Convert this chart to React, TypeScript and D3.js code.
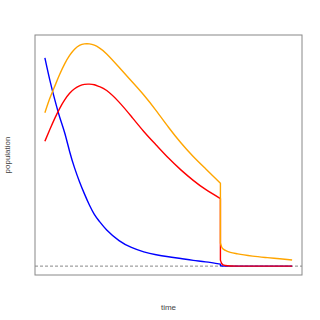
import React from "react";
import * as d3 from "d3";

const preTime = [0, 2, 4, 6, 8, 10, 12, 14, 16, 18, 20, 22, 25, 30, 35, 40, 45, 50, 55, 60, 65, 71];
const bluePre = [93.7, 83.7, 74.9, 67, 60, 51.6, 44.2, 38, 32.5, 27.5, 23.3, 20.2, 16.3, 11.5, 8.4, 6.4, 5.1, 4.2, 3.4, 2.6, 1.9, 0.9];
const redPre = [56.2, 61.5, 66.5, 71, 74.8, 77.8, 79.8, 81.1, 81.8, 81.9, 81.6, 80.8, 79, 73.8, 67.3, 60.6, 54.5, 48.6, 43.3, 38.6, 34.5, 30.4];
const orangePre = [69, 75.5, 81, 86.3, 91, 94.8, 97.6, 99.3, 100, 100, 99.4, 98.2, 95.5, 89.5, 83.3, 77, 70, 62.5, 55.5, 49.3, 43.8, 37.3];

const postTime = [71, 71.5, 72, 73, 75, 78, 84, 90, 95, 100];
const bluePost = [0.2, 0.1, 0.05, 0, 0, 0, 0, 0, 0, 0];
const redPost = [2.7, 1.2, 0.6, 0.25, 0.05, 0, 0, 0, 0, 0];
const orangePost = [10.4, 8.6, 7.8, 7.1, 6.2, 5.5, 4.5, 3.8, 3.3, 2.75];

const xLabel = "time";
const yLabel = "population";

export default function App() {
  const W = 320, H = 320;
  const left = 35, right = 302, top = 35, bottom = 275;
  const x = d3.scaleLinear().domain([-4, 104]).range([left, right]);
  const y = d3.scaleLinear().domain([-4, 104]).range([bottom, top]);
  const genPre = d3
    .line<[number, number]>()
    .x((d) => x(d[0]))
    .y((d) => y(d[1]))
    .curve(d3.curveNatural);
  const genPost = d3
    .line<[number, number]>()
    .x((d) => x(d[0]))
    .y((d) => y(d[1]))
    .curve(d3.curveMonotoneX);
  const mk = (pre: number[], post: number[]) => {
    const a = genPre(preTime.map((t, i) => [t, pre[i]] as [number, number])) || "";
    const b = genPost(postTime.map((t, i) => [t, post[i]] as [number, number])) || "";
    return a + "L" + b.slice(1);
  };
  const series = [
    { pre: bluePre, post: bluePost, color: "#0000ff" },
    { pre: redPre, post: redPost, color: "#ff0000" },
    { pre: orangePre, post: orangePost, color: "#ffa500" },
  ];
  return (
    <svg width={W} height={H} style={{ position: "absolute", left: 0, top: 0, background: "#fff" }}>
      <line x1={left} x2={right} y1={y(0)} y2={y(0)} stroke="#888" strokeWidth={1} strokeDasharray="3,2" />
      {series.map((s, i) => (
        <path key={i} d={mk(s.pre, s.post)} fill="none" stroke={s.color} strokeWidth={1.4} strokeLinejoin="round" />
      ))}
      <rect x={left} y={top} width={right - left} height={bottom - top} fill="none" stroke="#888" strokeWidth={1} />
      <text x={(left + right) / 2} y={310} textAnchor="middle" fontFamily="Liberation Sans, Arial, sans-serif" fontSize={8} fill="#444">
        {xLabel}
      </text>
      <text
        transform={`translate(10, ${(top + bottom) / 2}) rotate(-90)`}
        textAnchor="middle"
        fontFamily="Liberation Sans, Arial, sans-serif"
        fontSize={8}
        fill="#444"
      >
        {yLabel}
      </text>
    </svg>
  );
}
